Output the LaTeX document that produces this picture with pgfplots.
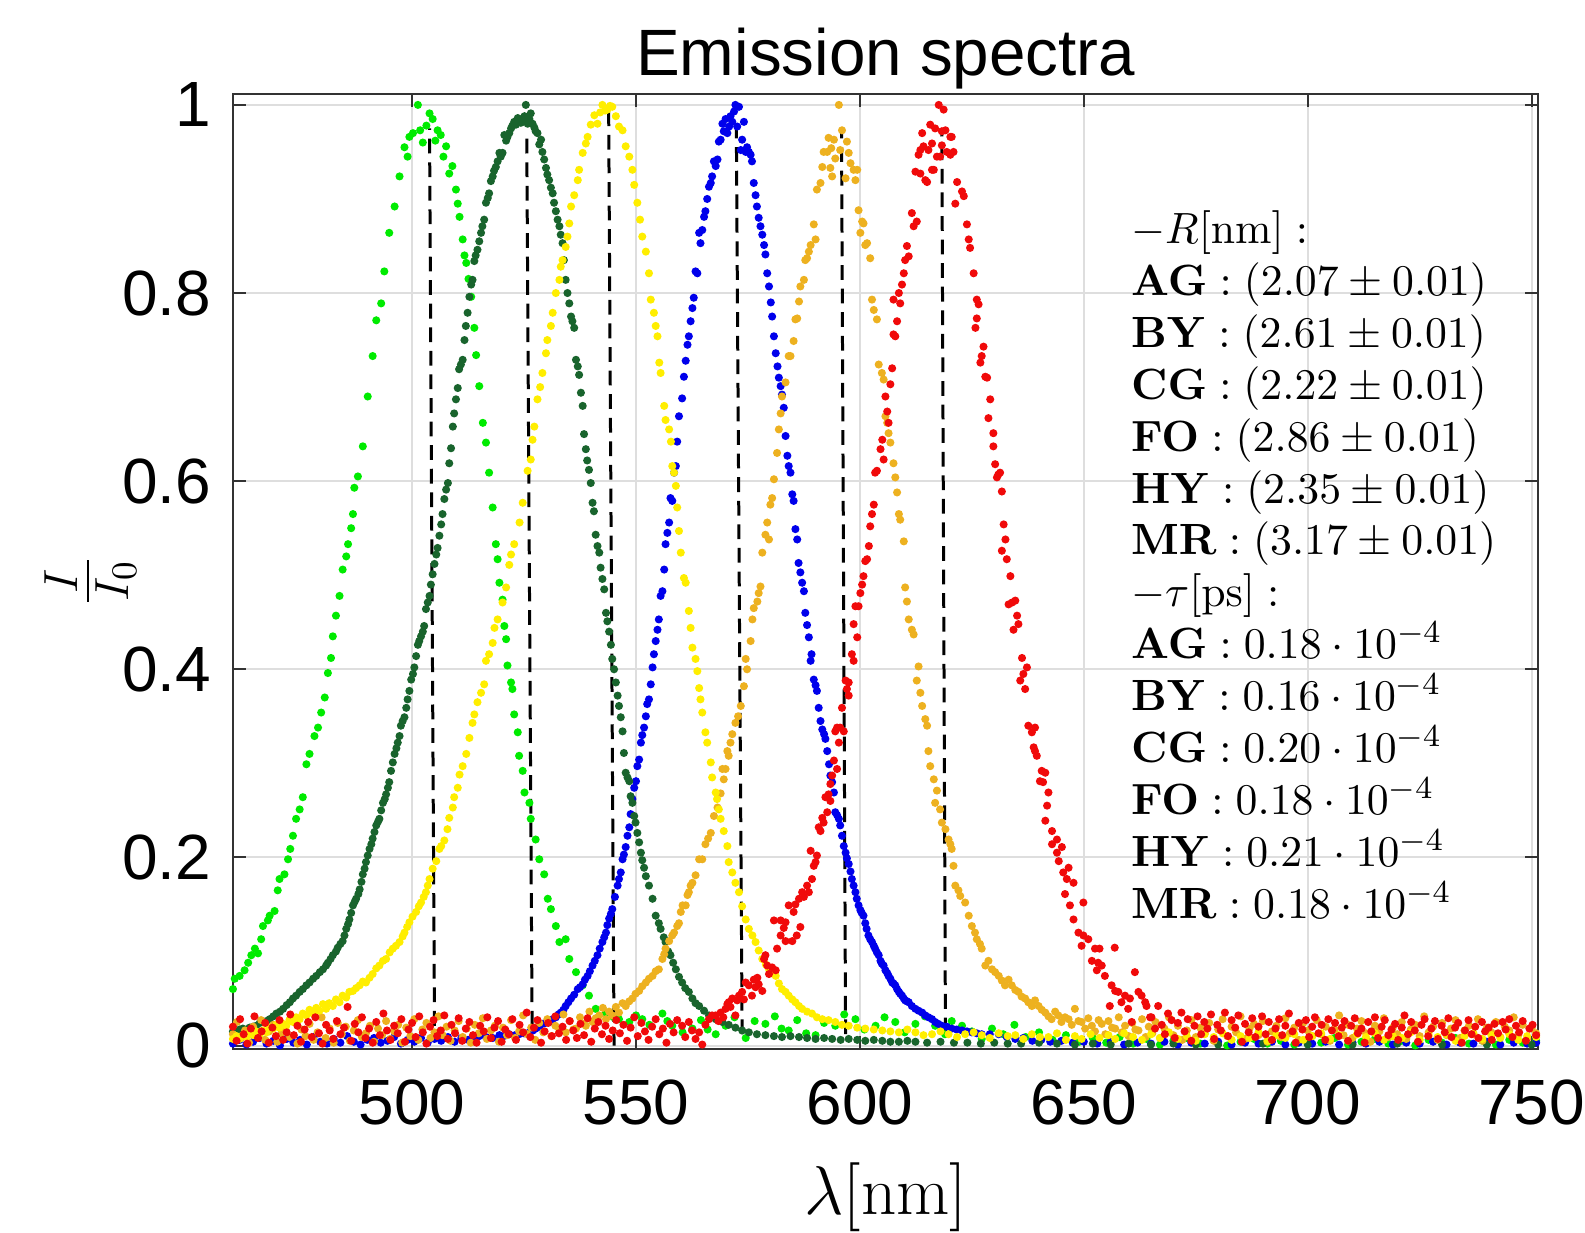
\documentclass[border=0pt]{standalone}
\usepackage[no-math]{fontspec}
\newfontfamily\arial{Liberation Sans}
\usepackage{pgfplots}
\pgfplotsset{compat=1.18}
\definecolor{clg}{RGB}{0,235,0}
\definecolor{cdg}{RGB}{25,100,45}
\definecolor{cye}{RGB}{255,238,0}
\definecolor{cbl}{RGB}{0,0,235}
\definecolor{cor}{RGB}{237,177,32}
\definecolor{crd}{RGB}{240,10,10}
\begin{document}
\begin{tikzpicture}
\begin{axis}[
  at={(0,0)}, anchor=south west,
  scale only axis, width=326.7pt, height=239pt,
  xmin=460, xmax=751.5, ymin=-0.0036, ymax=1.0117,
  xtick={500,550,600,650,700,750},
  ytick={0,0.2,0.4,0.6,0.8,1},
  /pgf/number format/assume math mode=true,
  tick label style={font=\arial\fontsize{16}{19}\selectfont},
  xticklabel style={anchor=north, inner sep=0pt, yshift=-7.5pt},
  yticklabel style={anchor=east, inner sep=0pt, xshift=-5.3pt},
  tick align=inside, major tick length=3.3pt,
  tick style={black!80, line width=0.5pt},
  axis line style={black!80, line width=0.5pt},
  grid=major, major grid style={black!13, line width=0.5pt},
  title={Emission spectra},
  title style={at={(axis description cs:0.5,1)}, anchor=base, yshift=-1.5pt, inner sep=0pt, font=\arial\fontsize{16.4}{19}\selectfont},
  xlabel={$\lambda[\mathrm{nm}]$},
  xlabel style={at={(axis description cs:0.5,0)}, anchor=base, yshift=-41.5pt, inner sep=0pt, font=\fontsize{17.6}{20}\selectfont},
  ylabel={$\frac{I}{I_0}$},
  ylabel style={at={(axis description cs:-0.109,0.49)}, anchor=center, inner sep=0pt, font=\fontsize{17.6}{20}\selectfont},
  every axis plot/.append style={only marks, mark=*, mark size=0.8pt},
]
% light green
\addplot[color=clg, mark options={fill=clg, draw=clg}] coordinates {
(460.0,0.060) (460.4,0.071) (461.5,0.074) (462.6,0.080) (463.4,0.088) (464.1,0.096) (464.9,0.103) (465.6,0.098) (466.3,0.113) (466.7,0.127)
(467.8,0.133) (468.2,0.138) (469.3,0.143) (470.0,0.165) (470.4,0.177) (471.5,0.182) (472.3,0.198) (472.8,0.209) (473.4,0.223) (474.1,0.241)
(474.9,0.251) (475.6,0.264) (476.4,0.299) (477.1,0.310) (478.2,0.329) (479.0,0.338) (479.7,0.354) (480.5,0.370) (481.2,0.396) (481.9,0.412)
(482.3,0.435) (483.0,0.457) (483.8,0.478) (484.5,0.506) (485.3,0.520) (485.7,0.533) (486.4,0.550) (486.8,0.565) (487.1,0.593) (487.9,0.605)
(489.0,0.637) (490.1,0.690) (491.2,0.733) (492.0,0.771) (493.1,0.789) (493.8,0.823) (494.9,0.864) (496.1,0.892) (497.2,0.924) (498.3,0.955)
(499.0,0.945) (499.4,0.966) (500.2,0.970) (501.3,1.000) (501.8,0.973) (502.4,0.960) (503.2,0.978) (503.9,0.991) (504.6,0.985) (505.2,0.962)
(505.7,0.973) (506.4,0.968) (507.0,0.945) (507.6,0.956) (508.3,0.927) (509.0,0.935) (509.8,0.910) (510.2,0.895) (510.6,0.881) (511.3,0.857)
(511.7,0.840) (512.1,0.832) (512.6,0.815) (513.2,0.796) (513.9,0.763) (514.3,0.734) (515.0,0.701) (515.8,0.662) (516.5,0.641) (517.2,0.609)
(518.0,0.572) (518.7,0.533) (519.1,0.517) (519.5,0.492) (520.2,0.474) (520.6,0.446) (521.0,0.432) (521.3,0.404) (522.1,0.386) (522.4,0.379)
(522.8,0.352) (523.6,0.333) (523.9,0.308) (524.7,0.292) (525.1,0.269) (526.2,0.258) (526.5,0.241) (527.6,0.219) (528.4,0.198) (529.5,0.182)
(530.3,0.156) (531.0,0.145) (532.1,0.127) (532.9,0.110) (534.3,0.113) (535.1,0.092) (536.6,0.078) (538.1,0.064) (539.5,0.053) (541.0,0.039)
(543.3,0.035) (545.0,0.030) (546.2,0.028) (548.5,0.025) (550.0,0.032) (551.4,0.028) (553.0,0.022) (555.9,0.034) (557.0,0.026) (558.1,0.021)
(560.4,0.014) (562.6,0.018) (564.5,0.027) (566.0,0.017) (567.8,0.012) (570.0,0.021) (572.0,0.030) (574.5,0.008) (576.5,0.026) (578.9,0.023)
(581.0,0.031) (582.5,0.018) (584.1,0.016) (586.0,0.027) (588.0,0.013) (590.1,0.011) (592.0,0.024) (594.5,0.021) (596.5,0.033) (599.0,0.028)
(601.0,0.017) (603.5,0.021) (605.5,0.030) (607.9,0.025) (610.0,0.014) (612.4,0.023) (614.5,0.031) (616.8,0.021) (619.0,0.012) (620.5,0.026)
(622.8,0.021) (625.0,0.015) (627.2,0.007) (629.5,0.018) (632.0,0.012) (634.5,0.022) (637.0,0.009) (640.0,0.014) (643.0,0.006) (646.0,0.011)
(649.0,0.004) (652.0,0.008) (655.0,0.003) (658.0,0.009) (661.0,0.002) (664.0,0.007) (667.0,0.001) (670.0,0.005) (673.0,0.008) (676.0,0.002)
(679.0,0.006) (682.0,0.000) (685.0,0.004) (688.0,0.007) (691.0,0.002) (694.0,0.005) (697.0,0.001) (700.0,0.006) (703.0,0.003) (706.0,0.008)
(709.0,0.001) (712.0,0.004) (715.0,0.007) (718.0,0.002) (721.0,0.005) (724.0,0.000) (727.0,0.006) (730.0,0.003) (733.0,0.008) (736.0,0.002)
(739.0,0.005) (742.0,0.001) (745.0,0.006) (748.0,0.003) (751.0,0.005)
};
% blue
\addplot[color=cbl, mark options={fill=cbl, draw=cbl}] coordinates {
(460.0,0.002) (461.5,0.006) (463.0,0.001) (464.5,0.004) (466.0,0.008) (467.5,0.002) (469.0,0.005) (470.5,0.000) (472.0,0.007) (473.5,0.003)
(475.0,0.006) (476.5,0.001) (478.0,0.009) (479.5,0.004) (481.0,0.002) (482.5,0.007) (484.0,0.003) (485.5,0.010) (487.0,0.004) (488.5,0.001)
(490.0,0.006) (491.5,0.008) (493.0,0.003) (494.5,0.005) (496.0,0.009) (497.5,0.002) (499.0,0.006) (500.5,0.004) (502.0,0.008) (503.5,0.003)
(505.0,0.007) (506.5,0.005) (508.0,0.009) (509.5,0.004) (511.0,0.008) (512.5,0.006) (513.5,0.007) (515.0,0.010) (516.5,0.009) (518.0,0.008)
(519.5,0.011) (520.5,0.010) (521.7,0.012) (523.0,0.011) (523.9,0.012) (525.0,0.013) (526.2,0.014) (527.0,0.016) (527.6,0.018) (528.4,0.020)
(529.1,0.023) (529.8,0.024) (530.6,0.025) (531.4,0.028) (532.1,0.030) (532.7,0.033) (533.2,0.035) (533.8,0.038) (534.3,0.042) (534.9,0.046)
(535.5,0.050) (536.2,0.054) (537.0,0.060) (537.5,0.062) (538.1,0.065) (538.6,0.070) (539.2,0.074) (539.7,0.079) (540.3,0.085) (540.8,0.090)
(541.4,0.096) (541.9,0.103) (542.5,0.110) (542.9,0.115) (543.3,0.120) (543.6,0.128) (544.0,0.135) (544.4,0.140) (544.7,0.145) (545.3,0.158)
(545.9,0.170) (546.2,0.177) (546.6,0.184) (547.0,0.198) (547.3,0.203) (547.7,0.211) (548.1,0.223) (548.5,0.232) (548.8,0.246) (549.2,0.262)
(549.6,0.274) (550.0,0.281) (550.3,0.297) (550.7,0.304) (551.1,0.322) (551.4,0.330) (551.8,0.338) (552.2,0.350) (552.5,0.363) (552.9,0.368)
(553.3,0.384) (553.7,0.402) (554.0,0.416) (554.4,0.430) (554.8,0.442) (555.1,0.453) (555.5,0.478) (555.9,0.483) (556.3,0.506) (556.6,0.533)
(557.0,0.545) (557.4,0.556) (557.7,0.582) (558.1,0.579) (558.5,0.609) (558.9,0.616) (559.2,0.642) (559.6,0.669) (560.3,0.688) (560.7,0.711)
(561.1,0.728) (561.5,0.745) (561.8,0.754) (562.2,0.770) (562.6,0.784) (562.9,0.795) (563.3,0.823) (563.7,0.821) (564.1,0.864) (564.4,0.853)
(564.8,0.867) (565.2,0.881) (565.5,0.887) (565.9,0.900) (566.3,0.913) (566.7,0.917) (567.0,0.924) (567.4,0.940) (567.8,0.935) (568.2,0.942)
(568.5,0.961) (568.9,0.963) (569.3,0.980) (569.6,0.972) (570.0,0.985) (570.4,0.970) (570.8,0.977) (571.1,0.988) (571.5,0.982) (571.9,0.993)
(572.2,1.000) (572.6,0.977) (573.0,0.998) (573.4,0.952) (573.7,0.963) (574.1,0.982) (574.5,0.950) (574.8,0.955) (575.2,0.950) (575.6,0.947)
(575.9,0.940) (576.3,0.917) (576.7,0.904) (577.0,0.892) (577.4,0.880) (577.8,0.871) (578.2,0.862) (578.6,0.851) (578.9,0.841) (579.3,0.821)
(579.7,0.807) (580.1,0.790) (580.4,0.775) (580.8,0.754) (581.2,0.736) (581.6,0.722) (581.9,0.710) (582.3,0.701) (582.6,0.692) (583.0,0.678)
(583.4,0.648) (583.8,0.627) (584.1,0.616) (584.5,0.609) (584.9,0.586) (585.2,0.579) (585.6,0.549) (586.0,0.538) (586.3,0.513) (586.7,0.503)
(587.1,0.492) (587.5,0.483) (587.8,0.460) (588.2,0.447) (588.6,0.434) (589.0,0.409) (589.2,0.416) (589.7,0.389) (590.1,0.383) (590.4,0.377)
(590.8,0.359) (591.2,0.345) (591.6,0.336) (592.0,0.331) (592.3,0.326) (592.7,0.313) (593.1,0.299) (593.4,0.287) (593.8,0.280) (594.2,0.269)
(594.5,0.248) (594.9,0.245) (595.3,0.241) (595.6,0.234) (596.0,0.223) (596.4,0.212) (596.8,0.205) (597.1,0.199) (597.5,0.193) (597.9,0.185)
(598.2,0.177) (598.6,0.170) (599.0,0.163) (599.3,0.156) (599.7,0.149) (600.1,0.144) (600.4,0.141) (600.8,0.138) (601.2,0.130) (601.5,0.124)
(601.9,0.117) (602.3,0.113) (602.7,0.110) (603.1,0.106) (603.4,0.103) (603.8,0.099) (604.2,0.096) (604.6,0.090) (604.9,0.087) (605.3,0.085)
(605.7,0.080) (606.1,0.077) (606.4,0.074) (606.8,0.071) (607.2,0.067) (607.5,0.066) (607.9,0.064) (608.3,0.060) (608.7,0.057) (609.0,0.055)
(609.4,0.053) (609.8,0.050) (610.1,0.048) (610.5,0.047) (610.9,0.046) (611.6,0.042) (612.4,0.039) (613.1,0.037) (613.9,0.035) (614.6,0.032)
(615.3,0.030) (616.1,0.028) (616.8,0.025) (617.5,0.023) (618.3,0.021) (619.4,0.020) (620.5,0.018) (621.6,0.017) (622.8,0.016) (623.9,0.015)
(625.0,0.014) (626.1,0.013) (627.2,0.012) (629.0,0.012) (631.0,0.012) (632.8,0.009) (634.7,0.007) (636.5,0.008) (638.5,0.005) (640.5,0.006)
(642.5,0.004) (645,0.005) (647.5,0.003) (650,0.004) (653,0.002) (656,0.004) (659,0.001) (662,0.003) (665,0.002) (668,0.004) (671,0.001)
(674,0.003) (677,0.002) (680,0.004) (683,0.001) (686,0.003) (689,0.002) (692,0.004) (695,0.001) (698,0.003) (701,0.002) (704,0.004)
(707,0.001) (710,0.003) (713,0.002) (716,0.004) (719,0.001) (722,0.003) (725,0.002) (728,0.004) (731,0.001) (734,0.003) (737,0.002)
(740,0.004) (743,0.001) (746,0.003) (749,0.002) (751,0.003)
};
% dark green
\addplot[color=cdg, mark options={fill=cdg, draw=cdg}] coordinates {
(460.0,0.015) (460.8,0.014) (461.5,0.017) (462.2,0.018) (463.0,0.016) (463.7,0.019) (464.5,0.020) (465.2,0.021) (466.0,0.024) (466.7,0.025)
(467.5,0.026) (468.2,0.028) (469.0,0.031) (469.7,0.034) (470.5,0.036) (471.2,0.039) (472.0,0.043) (472.7,0.046) (473.4,0.050) (474.1,0.053)
(474.9,0.057) (475.6,0.060) (476.4,0.064) (477.1,0.067) (477.9,0.071) (478.6,0.074) (479.4,0.078) (480.1,0.081) (480.8,0.085) (481.2,0.088)
(481.8,0.092) (482.3,0.096) (483.0,0.100) (483.4,0.104) (484.0,0.108) (484.5,0.111) (484.9,0.117) (485.3,0.124) (485.7,0.129) (486.0,0.134)
(486.4,0.141) (486.8,0.149) (487.2,0.153) (487.5,0.156) (488.0,0.161) (488.3,0.166) (488.7,0.174) (489.0,0.182) (489.4,0.188) (489.7,0.195)
(490.1,0.202) (490.5,0.209) (490.9,0.214) (491.2,0.220) (491.6,0.227) (492.0,0.234) (492.4,0.238) (492.7,0.241) (493.1,0.250) (493.5,0.258)
(493.9,0.262) (494.2,0.267) (494.6,0.274) (494.9,0.280) (495.3,0.292) (495.7,0.301) (496.1,0.310) (496.5,0.316) (496.8,0.322) (497.2,0.329)
(497.5,0.340) (497.9,0.345) (498.3,0.349) (498.7,0.359) (499.0,0.368) (499.4,0.377) (499.8,0.389) (500.2,0.395) (500.5,0.402) (500.9,0.414)
(501.3,0.426) (501.6,0.430) (502.0,0.435) (502.4,0.440) (502.7,0.446) (503.1,0.464) (503.5,0.471) (503.9,0.478) (504.2,0.490) (504.6,0.501)
(505.0,0.512) (505.4,0.522) (505.7,0.529) (506.1,0.542) (506.5,0.554) (506.8,0.565) (507.2,0.581) (507.6,0.591) (508.0,0.598) (508.3,0.619)
(508.7,0.635) (509.1,0.658) (509.4,0.672) (509.8,0.687) (510.2,0.699) (510.5,0.719) (510.9,0.724) (511.3,0.729) (511.7,0.750) (512.0,0.765)
(512.4,0.779) (512.8,0.796) (513.2,0.809) (513.5,0.814) (513.9,0.834) (514.2,0.840) (514.6,0.846) (515.0,0.855) (515.4,0.864) (515.7,0.871)
(516.1,0.878) (516.5,0.896) (516.9,0.901) (517.2,0.906) (517.6,0.919) (518.0,0.924) (518.3,0.930) (518.7,0.934) (519.1,0.940) (519.5,0.949)
(519.8,0.945) (520.2,0.949) (520.6,0.968) (521.0,0.962) (521.3,0.966) (521.7,0.970) (522.1,0.975) (522.4,0.978) (522.8,0.982) (523.2,0.979)
(523.6,0.986) (523.9,0.983) (524.3,0.981) (524.7,0.984) (525.1,0.988) (525.4,1.000) (525.8,0.980) (526.2,0.985) (526.5,0.991) (526.9,0.980)
(527.3,0.976) (527.6,0.972) (528.0,0.970) (528.4,0.958) (528.8,0.963) (529.1,0.950) (529.5,0.942) (529.9,0.933) (530.2,0.926) (530.6,0.920)
(531.0,0.912) (531.4,0.906) (531.7,0.896) (532.1,0.887) (532.5,0.878) (532.9,0.871) (533.2,0.862) (533.6,0.853) (533.9,0.835) (534.3,0.814)
(534.7,0.800) (535.1,0.789) (535.5,0.775) (535.8,0.770) (536.2,0.763) (536.6,0.729) (537.0,0.722) (537.3,0.713) (537.7,0.694) (538.1,0.680)
(538.4,0.650) (538.8,0.634) (539.1,0.622) (539.5,0.612) (539.9,0.598) (540.3,0.577) (540.6,0.568) (541.0,0.543) (541.4,0.531) (541.8,0.524)
(542.1,0.508) (542.5,0.496) (542.9,0.485) (543.3,0.460) (543.6,0.451) (544.0,0.440) (544.4,0.426) (544.7,0.411) (545.1,0.400) (545.5,0.386)
(545.9,0.372) (546.2,0.361) (546.6,0.349) (547.0,0.334) (547.3,0.311) (547.7,0.290) (548.1,0.285) (548.5,0.281) (548.8,0.265) (549.2,0.258)
(549.6,0.244) (549.9,0.237) (550.3,0.226) (550.7,0.216) (551.1,0.205) (551.4,0.197) (551.8,0.189) (552.2,0.180) (552.9,0.170) (553.7,0.156)
(554.4,0.138) (555.1,0.130) (555.5,0.124) (556.2,0.115) (556.6,0.110) (557.2,0.100) (557.7,0.096) (558.3,0.088) (558.9,0.081) (559.6,0.073)
(560.3,0.067) (561.0,0.061) (561.8,0.057) (562.6,0.050) (563.3,0.045) (564.1,0.042) (565.2,0.037) (566.3,0.032) (567.8,0.028) (569.3,0.025)
(570.7,0.022) (572.2,0.019) (573.7,0.016) (575.2,0.014) (577.0,0.012) (578.9,0.011) (580.8,0.010) (582.6,0.009) (584.5,0.010) (586.4,0.009)
(588.2,0.008) (590.1,0.007) (592.0,0.008) (593.8,0.007) (595.7,0.006) (597.5,0.007) (599.4,0.006) (601.2,0.005) (603.1,0.006) (605.0,0.005)
(606.8,0.004) (608.7,0.004) (610.6,0.005) (612.4,0.004) (615,0.003) (618,0.004) (621,0.003) (624,0.003) (627,0.002) (630,0.003) (633,0.002)
(636,0.002) (640,0.003) (644,0.002) (648,0.001) (652,0.002) (656,0.001) (660,0.002) (665,0.001) (670,0.002) (675,0.001) (680,0.001)
(690,0.002) (700,0.001) (710,0.001) (720,0.002) (730,0.001) (740,0.001) (750,0.001)
};
% orange
\addplot[color=cor, mark options={fill=cor, draw=cor}] coordinates {
(460.0,0.012) (460.9,0.025) (461.8,0.008) (462.7,0.016) (463.6,0.003) (464.5,0.020) (465.4,0.011) (466.3,0.027) (467.2,0.006) (468.1,0.015)
(469.0,0.022) (469.9,0.004) (470.8,0.013) (471.7,0.019) (472.6,0.009) (473.5,0.028) (474.4,0.002) (475.3,0.017) (476.2,0.010) (477.1,0.023)
(478.0,0.006) (478.9,0.014) (479.8,0.030) (480.7,0.008) (481.6,0.018) (482.5,0.003) (483.4,0.024) (484.3,0.012) (485.2,0.020) (486.1,0.005)
(487.0,0.016) (487.9,0.027) (488.8,0.009) (489.7,0.013) (490.6,0.021) (491.5,0.004) (492.4,0.018) (493.3,0.011) (494.2,0.026) (495.1,0.007)
(496.0,0.015) (496.9,0.022) (497.8,0.003) (498.7,0.019) (499.6,0.010) (500.5,0.028) (501.4,0.006) (502.3,0.017) (503.2,0.024) (504.1,0.008)
(505.0,0.014) (505.9,0.031) (506.8,0.011) (507.7,0.020) (508.6,0.005) (509.5,0.016) (510.4,0.026) (511.3,0.009) (512.2,0.018) (513.1,0.003)
(514.0,0.022) (514.9,0.013) (515.8,0.029) (516.7,0.007) (517.6,0.016) (518.5,0.021) (519.4,0.004) (520.3,0.019) (521.2,0.011) (522.1,0.027)
(523.0,0.008) (523.9,0.015) (524.8,0.032) (525.7,0.012) (526.6,0.019) (527.5,0.006) (528.4,0.024) (529.3,0.014) (530.2,0.028) (531.1,0.010)
(532.0,0.021) (532.9,0.015) (533.8,0.033) (534.3,0.014) (535.2,0.026) (536.0,0.017) (536.6,0.018) (537.5,0.030) (538.3,0.023) (538.8,0.021)
(539.6,0.036) (540.3,0.025) (541.0,0.029) (541.8,0.032) (542.6,0.040) (543.3,0.028) (544.0,0.036) (544.7,0.032) (545.5,0.041) (546.2,0.035)
(547.0,0.045) (547.7,0.042) (548.5,0.047) (549.2,0.050) (549.9,0.055) (550.7,0.058) (551.4,0.063) (552.2,0.067) (552.9,0.071) (553.7,0.074)
(554.4,0.079) (555.1,0.081) (555.9,0.092) (556.3,0.097) (556.6,0.103) (557.4,0.111) (558.1,0.117) (558.5,0.120) (559.2,0.127) (559.6,0.130)
(560.0,0.142) (560.4,0.149) (561.1,0.149) (561.5,0.160) (561.8,0.163) (562.2,0.170) (562.6,0.173) (563.3,0.181) (564.1,0.198) (564.8,0.198)
(565.5,0.214) (566.1,0.220) (566.7,0.226) (567.4,0.244) (568.2,0.253) (568.9,0.268) (569.3,0.294) (569.6,0.283) (570.0,0.294) (570.4,0.313)
(570.7,0.308) (571.1,0.322) (571.5,0.331) (572.2,0.343) (572.8,0.350) (573.4,0.361) (574.1,0.382) (574.5,0.411) (574.8,0.400) (575.6,0.430)
(576.0,0.453) (576.3,0.465) (577.1,0.472) (577.4,0.481) (577.8,0.488) (578.2,0.524) (578.9,0.543) (579.3,0.556) (579.7,0.538) (580.0,0.575)
(580.4,0.582) (580.8,0.602) (581.5,0.630) (581.9,0.655) (582.3,0.672) (582.6,0.690) (583.4,0.705) (584.1,0.733) (584.5,0.733) (585.2,0.749)
(585.6,0.772) (586.0,0.773) (586.4,0.791) (586.7,0.807) (587.5,0.814) (587.8,0.835) (588.2,0.837) (588.6,0.844) (589.0,0.851) (589.7,0.873)
(590.1,0.857) (590.4,0.910) (591.2,0.917) (591.6,0.934) (591.9,0.950) (592.7,0.950) (593.0,0.965) (593.4,0.933) (593.6,0.954) (593.8,0.924)
(594.2,0.963) (594.5,0.943) (595.3,1.000) (595.6,0.952) (596.0,0.973) (596.8,0.922) (597.1,0.961) (597.5,0.949) (597.9,0.938) (598.6,0.931)
(599.0,0.920) (599.4,0.931) (599.7,0.888) (600.1,0.864) (600.5,0.876) (600.8,0.874) (601.2,0.851) (601.6,0.853) (602.3,0.837) (602.7,0.793)
(603.1,0.782) (603.8,0.772) (604.2,0.724) (604.9,0.715) (605.3,0.708) (605.7,0.669) (606.1,0.662) (606.4,0.651) (606.8,0.641) (607.5,0.619)
(607.9,0.604) (608.3,0.588) (608.7,0.565) (609.0,0.559) (609.8,0.536) (610.1,0.487) (610.5,0.472) (610.9,0.453) (611.6,0.442) (612.0,0.437)
(612.7,0.388) (613.1,0.403) (613.5,0.375) (613.9,0.361) (614.6,0.347) (615.0,0.340) (615.3,0.313) (615.7,0.297) (616.5,0.283) (616.8,0.258)
(617.2,0.271) (617.9,0.251) (618.3,0.237) (619.1,0.230) (619.8,0.219) (620.2,0.214) (620.5,0.209) (620.9,0.191) (621.3,0.170) (622.0,0.165)
(622.4,0.159) (623.5,0.152) (624.3,0.138) (625.0,0.127) (625.7,0.120) (626.1,0.113) (626.8,0.108) (627.2,0.103) (628.0,0.085) (628.7,0.090)
(629.5,0.081) (630.2,0.078) (631.0,0.074) (631.7,0.069) (632.4,0.064) (633.2,0.070) (633.9,0.064) (634.7,0.059) (635.4,0.057) (636.1,0.052)
(636.9,0.050) (637.6,0.046) (638.4,0.042) (639.1,0.048) (639.9,0.042) (640.6,0.038) (641.4,0.035) (642.1,0.031) (642.8,0.028) (643.6,0.036)
(644.3,0.032) (645.0,0.025) (645.8,0.030) (646.6,0.028) (647.3,0.022) (648.0,0.039) (648.8,0.026) (649.5,0.025) (650.3,0.018) (651.0,0.029)
(651.8,0.021) (652.5,0.015) (653.3,0.027) (654.0,0.023) (654.8,0.012) (655.5,0.026) (656.3,0.019) (657.0,0.018) (657.8,0.030) (658.5,0.014)
(659.2,0.021) (660.0,0.010) (660.8,0.024) (661.5,0.017) (662.2,0.016) (663.0,0.028) (663.8,0.009) (664.5,0.020) (665.3,0.013) (666.0,0.025)
(667.0,0.008) (668.0,0.018) (669.0,0.030) (670.0,0.011) (671.0,0.021) (672.0,0.006) (673.0,0.016) (674.0,0.027) (675.0,0.009) (676.0,0.019)
(677.0,0.013) (678.0,0.024) (679.0,0.005) (680.0,0.017) (681.0,0.028) (682.0,0.010) (683.0,0.020) (684.0,0.014) (685.0,0.031) (686.0,0.007)
(687.0,0.018) (688.0,0.023) (689.0,0.011) (690.0,0.026) (691.0,0.004) (692.0,0.015) (693.0,0.021) (694.0,0.009) (695.0,0.029) (696.0,0.013)
(697.0,0.019) (698.0,0.006) (699.0,0.024) (700.0,0.016) (701.0,0.010) (702.0,0.027) (703.0,0.012) (704.0,0.020) (705.0,0.005) (706.0,0.017)
(707.0,0.032) (708.0,0.011) (709.0,0.022) (710.0,0.008) (711.0,0.018) (712.0,0.026) (713.0,0.013) (714.0,0.004) (715.0,0.021) (716.0,0.015)
(717.0,0.029) (718.0,0.009) (719.0,0.019) (720.0,0.012) (721.0,0.025) (722.0,0.007) (723.0,0.017) (724.0,0.022) (725.0,0.010) (726.0,0.031)
(727.0,0.014) (728.0,0.020) (729.0,0.006) (730.0,0.024) (731.0,0.011) (732.0,0.018) (733.0,0.027) (734.0,0.008) (735.0,0.016) (736.0,0.021)
(737.0,0.012) (738.0,0.028) (739.0,0.005) (740.0,0.019) (741.0,0.014) (742.0,0.025) (743.0,0.009) (744.0,0.020) (745.0,0.016) (746.0,0.030)
(747.0,0.011) (748.0,0.022) (749.0,0.007) (750.0,0.018) (751.0,0.013)
};
% yellow
\addplot[color=cye, mark options={fill=cye, draw=cye}] coordinates {
(460.0,0.007) (460.8,0.010) (461.5,0.007) (462.2,0.011) (463.0,0.009) (463.7,0.013) (464.5,0.011) (465.2,0.015) (466.0,0.012) (466.7,0.016)
(467.5,0.014) (468.2,0.019) (469.0,0.018) (469.7,0.022) (470.4,0.019) (471.2,0.023) (471.9,0.021) (472.6,0.027) (473.4,0.025) (474.1,0.030)
(474.9,0.028) (475.6,0.034) (476.4,0.032) (477.1,0.038) (477.9,0.034) (478.6,0.040) (479.3,0.037) (480.1,0.044) (480.8,0.039) (481.5,0.045)
(482.3,0.042) (483.0,0.049) (483.8,0.046) (484.5,0.053) (485.3,0.051) (486.0,0.057) (486.8,0.058) (487.5,0.061) (488.3,0.064) (489.0,0.068)
(489.7,0.067) (490.5,0.072) (491.2,0.076) (492.0,0.082) (492.7,0.085) (493.5,0.090) (494.2,0.092) (495.0,0.099) (495.7,0.103) (496.4,0.106)
(497.2,0.110) (497.9,0.116) (498.3,0.120) (498.9,0.126) (499.4,0.131) (500.1,0.137) (500.9,0.142) (501.5,0.148) (502.0,0.152) (502.6,0.158)
(503.1,0.163) (503.5,0.170) (503.9,0.177) (504.6,0.188) (505.4,0.196) (506.1,0.209) (506.5,0.212) (507.2,0.218) (507.9,0.230) (508.3,0.242)
(509.1,0.253) (509.4,0.264) (510.2,0.274) (510.6,0.288) (511.3,0.297) (512.1,0.310) (512.8,0.327) (513.5,0.343) (513.9,0.352) (514.6,0.365)
(515.4,0.375) (516.1,0.384) (516.5,0.409) (517.2,0.416) (518.0,0.428) (518.4,0.444) (519.1,0.453) (520.2,0.471) (521.0,0.487) (521.7,0.511)
(522.1,0.522) (522.8,0.533) (524.0,0.556) (524.7,0.577) (525.8,0.611) (526.5,0.623) (526.9,0.644) (527.3,0.658) (528.0,0.687) (528.6,0.700)
(529.1,0.715) (529.9,0.736) (530.2,0.750) (531.0,0.765) (531.4,0.779) (532.1,0.800) (532.9,0.814) (533.2,0.828) (533.6,0.835) (534.3,0.849)
(534.7,0.860) (535.1,0.874) (535.5,0.892) (536.2,0.904) (537.0,0.920) (537.3,0.931) (538.1,0.949) (538.8,0.959) (539.2,0.966) (539.9,0.979)
(540.7,0.989) (541.4,0.980) (542.0,0.992) (542.5,1.000) (543.1,0.994) (543.6,0.995) (544.2,0.999) (544.7,0.998) (545.5,0.988) (546.2,0.977)
(547.0,0.973) (547.7,0.956) (548.5,0.945) (549.2,0.931) (549.6,0.915) (550.3,0.896) (550.9,0.878) (551.4,0.860) (552.2,0.844) (552.9,0.821)
(553.3,0.793) (554.0,0.779) (554.4,0.765) (554.8,0.754) (555.2,0.726) (555.5,0.715) (556.3,0.680) (556.6,0.665) (557.4,0.655) (557.8,0.642)
(558.1,0.616) (558.5,0.609) (558.9,0.595) (559.2,0.572) (559.6,0.547) (560.0,0.524) (560.7,0.497) (561.1,0.492) (561.8,0.462) (562.2,0.444)
(562.6,0.423) (563.3,0.411) (563.7,0.398) (564.1,0.380) (564.4,0.368) (564.8,0.354) (565.5,0.333) (565.9,0.322) (566.7,0.301) (567.0,0.285)
(567.8,0.269) (568.1,0.262) (568.5,0.251) (568.9,0.241) (569.6,0.228) (570.4,0.212) (570.7,0.195) (571.5,0.184) (572.2,0.173) (573.0,0.163)
(573.7,0.148) (574.5,0.134) (575.2,0.124) (576.0,0.117) (576.7,0.110) (577.4,0.101) (578.2,0.092) (579.0,0.086) (579.7,0.081) (580.4,0.077)
(581.2,0.074) (581.9,0.066) (582.6,0.060) (583.4,0.057) (584.1,0.053) (584.9,0.049) (585.6,0.046) (586.4,0.042) (587.1,0.039) (588.2,0.036)
(589.3,0.034) (590.4,0.030) (591.6,0.028) (593.0,0.027) (594.5,0.025) (596.0,0.022) (597.5,0.021) (599.4,0.019) (601.2,0.018) (603.1,0.017)
(605.0,0.016) (606.8,0.015) (608.7,0.014) (610.6,0.017) (612.4,0.014) (614.2,0.011) (616.1,0.012) (618.0,0.015) (619.8,0.012) (621.7,0.009)
(623.5,0.012) (625.4,0.014) (627.2,0.011) (629.0,0.008) (631.0,0.013) (633.0,0.010) (634.7,0.011) (636.5,0.007) (638.4,0.012) (640.2,0.009)
(642.1,0.009) (644.0,0.013) (646.0,0.006) (648.0,0.010) (649.5,0.007) (651.5,0.012) (653.5,0.008) (655.5,0.011) (657.0,0.007) (659.0,0.013)
(661.0,0.009) (663.0,0.006) (665.0,0.012) (667.0,0.008) (669.0,0.014) (671.0,0.007) (673.0,0.010) (675.0,0.005) (677.0,0.012) (679.0,0.009)
(681.0,0.013) (683.0,0.006) (685.0,0.010) (687.0,0.008) (689.0,0.014) (691.0,0.005) (693.0,0.011) (695.0,0.008) (697.0,0.012) (699.0,0.006)
(701.0,0.010) (703.0,0.013) (705.0,0.007) (707.0,0.011) (709.0,0.005) (711.0,0.012) (713.0,0.009) (715.0,0.013) (717.0,0.006) (719.0,0.010)
(721.0,0.008) (723.0,0.014) (725.0,0.006) (727.0,0.011) (729.0,0.009) (731.0,0.012) (733.0,0.005) (735.0,0.010) (737.0,0.013) (739.0,0.007)
(741.0,0.011) (743.0,0.008) (745.0,0.012) (747.0,0.006) (749.0,0.010) (751.0,0.009)
};
% red
\addplot[color=crd, mark options={fill=crd, draw=crd}] coordinates {
(460.0,0.020) (460.8,0.005) (461.6,0.028) (462.4,0.012) (463.2,0.002) (464.0,0.018) (464.8,0.031) (465.6,0.008) (466.4,0.015) (467.2,0.024)
(468.0,0.003) (468.8,0.019) (469.6,0.010) (470.4,0.027) (471.2,0.006) (472.0,0.014) (472.8,0.033) (473.6,0.011) (474.4,0.021) (475.2,0.004)
(476.0,0.017) (476.8,0.025) (477.6,0.009) (478.4,0.030) (479.2,0.013) (480.0,0.002) (480.8,0.022) (481.6,0.016) (482.4,0.007) (483.2,0.026)
(484.0,0.012) (484.8,0.019) (485.6,0.041) (486.4,0.005) (487.2,0.023) (488.0,0.014) (488.8,0.030) (489.6,0.008) (490.4,0.018) (491.2,0.003)
(492.0,0.025) (492.8,0.011) (493.6,0.034) (494.4,0.016) (495.2,0.006) (496.0,0.021) (496.8,0.013) (497.6,0.028) (498.4,0.004) (499.2,0.017)
(500.0,0.024) (500.8,0.009) (501.6,0.031) (502.4,0.014) (503.2,0.002) (504.0,0.020) (504.8,0.027) (505.6,0.010) (506.4,0.016) (507.2,0.032)
(508.0,0.007) (508.8,0.022) (509.6,0.013) (510.4,0.029) (511.2,0.005) (512.0,0.018) (512.8,0.025) (513.6,0.011) (514.4,0.003) (515.2,0.021)
(516.0,0.015) (516.8,0.030) (517.6,0.008) (518.4,0.019) (519.2,0.026) (520.0,0.004) (520.8,0.017) (521.6,0.012) (522.4,0.028) (523.2,0.006)
(524.0,0.022) (524.8,0.014) (525.6,0.035) (526.4,0.009) (527.2,0.019) (528.0,0.027) (528.8,0.003) (529.6,0.015) (530.4,0.024) (531.2,0.010)
(532.0,0.031) (532.8,0.013) (533.6,0.020) (534.4,0.006) (535.2,0.026) (536.0,0.016) (536.8,0.008) (537.6,0.023) (538.4,0.011) (539.2,0.029)
(540.0,0.004) (540.8,0.018) (541.6,0.025) (542.4,0.012) (543.2,0.021) (544.0,0.007) (544.8,0.016) (545.6,0.027) (546.4,0.013) (547.2,0.022)
(548.0,0.005) (548.8,0.019) (549.6,0.030) (550.4,0.010) (551.2,0.024) (552.0,0.015) (552.8,0.006) (553.6,0.020) (554.4,0.028) (555.2,0.012)
(556.0,0.018) (556.8,0.003) (557.6,0.023) (558.4,0.014) (559.2,0.027) (560.3,0.021) (561.0,0.009) (561.8,0.025) (562.5,0.016) (563.3,0.007)
(564.1,0.014) (564.8,0.001) (565.5,0.022) (566.3,0.028) (567.0,0.032) (567.8,0.032) (568.4,0.026) (568.9,0.035) (569.5,0.030) (570.0,0.039)
(570.4,0.044) (570.7,0.046) (571.1,0.041) (571.5,0.050) (572.2,0.032) (572.6,0.048) (573.0,0.053) (573.7,0.057) (574.1,0.049) (574.5,0.067)
(575.2,0.064) (575.9,0.053) (576.3,0.070) (576.7,0.062) (577.1,0.072) (577.4,0.065) (578.2,0.058) (578.6,0.092) (578.9,0.096) (579.3,0.085)
(579.7,0.076) (580.4,0.083) (580.8,0.133) (581.2,0.080) (581.5,0.103) (582.3,0.133) (582.3,0.117) (583.0,0.125) (583.4,0.131) (583.4,0.111)
(584.1,0.149) (584.9,0.111) (585.2,0.142) (585.6,0.150) (585.9,0.117) (586.4,0.156) (586.7,0.126) (587.1,0.163) (587.5,0.158) (588.2,0.170)
(588.6,0.163) (589.0,0.207) (589.3,0.177) (589.7,0.191) (590.1,0.195) (590.4,0.202) (590.8,0.232) (591.2,0.228) (591.6,0.242) (591.9,0.237)
(592.3,0.264) (592.7,0.248) (593.0,0.267) (593.4,0.278) (593.4,0.260) (593.8,0.287) (594.2,0.303) (594.5,0.334) (594.9,0.294) (594.9,0.338)
(595.3,0.322) (595.6,0.338) (596.0,0.359) (596.4,0.334) (596.8,0.388) (597.1,0.379) (597.5,0.386) (597.5,0.372) (598.2,0.416) (598.6,0.409)
(598.6,0.448) (599.0,0.467) (599.4,0.434) (599.7,0.467) (600.1,0.481) (600.5,0.490) (600.8,0.499) (601.2,0.515) (601.6,0.517) (602.0,0.531)
(602.3,0.552) (602.7,0.565) (603.1,0.575) (603.4,0.609) (603.8,0.611) (604.6,0.634) (605.0,0.644) (605.3,0.623) (605.7,0.690) (606.1,0.674)
(606.4,0.662) (606.8,0.703) (607.2,0.720) (607.5,0.756) (607.5,0.793) (607.9,0.754) (608.3,0.770) (608.7,0.800) (609.0,0.789) (609.4,0.809)
(609.8,0.821) (610.1,0.835) (610.5,0.850) (610.9,0.839) (611.6,0.885) (612.0,0.871) (612.4,0.929) (612.7,0.876) (613.1,0.947) (613.5,0.927)
(613.5,0.952) (613.9,0.970) (614.2,0.956) (614.6,0.920) (615.0,0.918) (615.3,0.952) (615.7,0.979) (616.1,0.931) (616.1,0.959) (616.5,0.931)
(616.8,0.975) (617.2,0.945) (617.6,1.000) (617.9,0.945) (618.3,0.972) (618.3,0.957) (618.7,0.995) (619.1,0.973) (619.4,0.950) (620.2,0.966)
(620.2,0.947) (620.5,0.966) (620.9,0.950) (621.3,0.895) (621.7,0.918) (622.8,0.908) (623.2,0.903) (623.9,0.873) (624.3,0.857) (624.6,0.848)
(625.4,0.821) (625.8,0.763) (626.1,0.793) (626.1,0.773) (626.5,0.788) (626.9,0.726) (627.2,0.733) (627.6,0.743) (628.0,0.711) (628.4,0.710)
(628.7,0.667) (629.1,0.687) (629.8,0.651) (629.8,0.637) (630.2,0.618) (630.6,0.604) (630.9,0.607) (631.3,0.609) (631.7,0.589) (631.7,0.526)
(632.1,0.554) (632.5,0.538) (632.8,0.517) (633.2,0.469) (633.6,0.499) (634.0,0.471) (634.3,0.442) (634.7,0.473) (635.1,0.457) (635.4,0.448)
(635.8,0.388) (636.2,0.412) (636.5,0.395) (636.9,0.379) (637.3,0.402) (637.6,0.340) (638.4,0.333) (638.8,0.317) (639.1,0.338) (639.1,0.313)
(639.5,0.308) (640.2,0.281) (640.6,0.292) (640.9,0.280) (641.4,0.290) (641.4,0.239) (641.8,0.255) (642.1,0.269) (642.9,0.228) (642.9,0.214)
(644.0,0.219) (644.0,0.205) (644.4,0.196) (645.1,0.211) (645.4,0.184) (645.8,0.161) (646.2,0.177) (646.6,0.189) (646.9,0.149) (647.7,0.173)
(647.7,0.134) (648.8,0.120) (649.5,0.106) (649.9,0.152) (649.9,0.117) (651.0,0.113) (651.8,0.090) (652.5,0.103) (652.9,0.080) (653.2,0.088)
(653.5,0.103) (654.0,0.085) (654.7,0.074) (655.8,0.042) (656.2,0.064) (656.9,0.104) (657.0,0.058) (657.7,0.057) (658.4,0.046) (659.2,0.053)
(659.9,0.039) (660.3,0.050) (660.7,0.025) (661.4,0.078) (662.2,0.057) (662.9,0.053) (663.7,0.046) (664.0,0.042) (664.8,0.030) (665.1,0.030)
(665.9,0.018) (666.6,0.042) (667.4,0.022) (668.1,0.012) (668.8,0.034) (669.6,0.027) (670.3,0.008) (671.0,0.024) (671.8,0.035) (672.5,0.015)
(673.2,0.028) (674.0,0.005) (674.7,0.021) (675.4,0.031) (676.2,0.012) (676.9,0.025) (677.6,0.018) (678.4,0.033) (679.1,0.007) (679.8,0.022)
(680.6,0.016) (681.5,0.035) (682.2,0.010) (683.0,0.027) (683.8,0.019) (684.5,0.032) (685.3,0.004) (686.0,0.023) (686.8,0.014) (687.6,0.029)
(688.3,0.009) (689.0,0.020) (689.8,0.031) (690.6,0.012) (691.3,0.025) (692.0,0.006) (692.8,0.018) (693.6,0.028) (694.3,0.011) (695.0,0.021)
(695.8,0.034) (696.6,0.015) (697.3,0.003) (698.0,0.024) (698.8,0.017) (699.6,0.027) (700.3,0.009) (701.0,0.020) (701.6,0.030) (702.4,0.013)
(703.1,0.022) (703.9,0.006) (704.6,0.028) (705.4,0.016) (706.1,0.024) (706.9,0.010) (707.6,0.019) (708.2,0.026) (709.0,0.005) (709.7,0.021)
(710.5,0.029) (711.2,0.013) (712.0,0.018) (712.7,0.003) (713.5,0.025) (714.2,0.015) (715.0,0.030) (715.7,0.008) (716.5,0.020) (717.2,0.027)
(718.0,0.011) (718.7,0.017) (719.5,0.023) (720.2,0.006) (721.0,0.019) (721.6,0.032) (722.4,0.012) (723.1,0.025) (723.9,0.016) (724.6,0.004)
(725.4,0.022) (726.1,0.028) (726.9,0.010) (727.6,0.018) (728.4,0.026) (729.1,0.007) (729.9,0.021) (730.6,0.014) (731.4,0.029) (732.1,0.009)
(732.9,0.019) (733.6,0.024) (734.4,0.003) (735.1,0.016) (735.9,0.027) (736.6,0.012) (737.4,0.020) (738.1,0.008) (738.9,0.025) (739.6,0.015)
(740.4,0.019) (741.1,0.006) (741.7,0.023) (742.5,0.013) (743.5,0.025) (744.2,0.017) (745.0,0.028) (745.7,0.009) (746.5,0.021) (747.2,0.014)
(748.0,0.026) (748.7,0.005) (749.5,0.018) (750.2,0.022) (751.0,0.011)
};
% peak markers
\addplot[no marks, sharp plot, black, line width=0.75pt, dash pattern=on 3.7pt off 2.2pt] coordinates {(505.0,0.021) (503.9,0.975)};
\addplot[no marks, sharp plot, black, line width=0.75pt, dash pattern=on 3.7pt off 2.2pt] coordinates {(526.8,0.021) (525.6,0.973)};
\addplot[no marks, sharp plot, black, line width=0.75pt, dash pattern=on 3.7pt off 2.2pt] coordinates {(545.1,0.000) (543.9,0.993)};
\addplot[no marks, sharp plot, black, line width=0.75pt, dash pattern=on 3.7pt off 2.2pt] coordinates {(573.7,0.012) (572.4,0.980)};
\addplot[no marks, sharp plot, black, line width=0.75pt, dash pattern=on 3.7pt off 2.2pt] coordinates {(596.8,0.012) (595.9,0.973)};
\addplot[no marks, sharp plot, black, line width=0.75pt, dash pattern=on 3.7pt off 2.2pt] coordinates {(619.1,0.014) (618.3,0.970)};
\node[anchor=north west, inner sep=0pt, align=left, font=\fontsize{10.9}{13}\selectfont] at (axis cs:660.4,0.8886) {%
$-R[\mathrm{nm}]:$\\
$\mathbf{AG}:(2.07\pm0.01)$\\
$\mathbf{BY}:(2.61\pm0.01)$\\
$\mathbf{CG}:(2.22\pm0.01)$\\
$\mathbf{FO}:(2.86\pm0.01)$\\
$\mathbf{HY}:(2.35\pm0.01)$\\
$\mathbf{MR}:(3.17\pm0.01)$\\
$-\tau[\mathrm{ps}]:$\\
$\mathbf{AG}:0.18\cdot10^{-4}$\\
$\mathbf{BY}:0.16\cdot10^{-4}$\\
$\mathbf{CG}:0.20\cdot10^{-4}$\\
$\mathbf{FO}:0.18\cdot10^{-4}$\\
$\mathbf{HY}:0.21\cdot10^{-4}$\\
$\mathbf{MR}:0.18\cdot10^{-4}$};
\end{axis}
\path (-58.3pt,-46pt) rectangle (337.95pt,262.5pt);
\end{tikzpicture}
\end{document}
